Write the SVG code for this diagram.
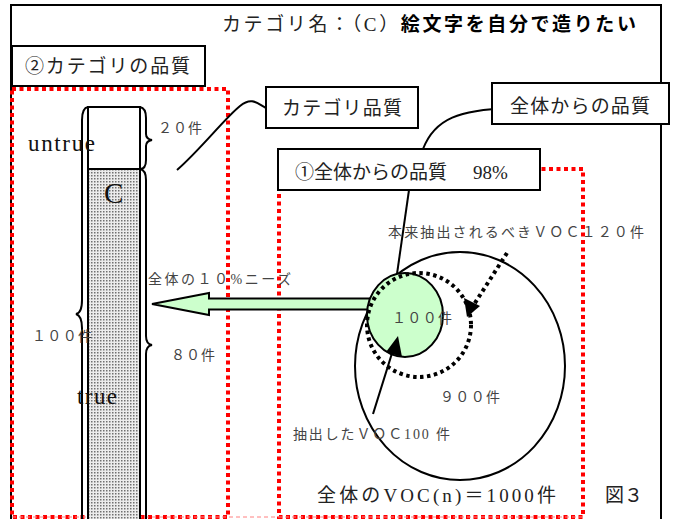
<svg xmlns="http://www.w3.org/2000/svg" width="678" height="519" viewBox="0 0 678 519">
<style>
.jp{font-family:"Liberation Serif","Noto Sans CJK JP",serif;fill:#222}
.sm{font-size:14px;fill:#444}
.md{font-size:19px}
.lat{font-family:"Liberation Serif",serif;fill:#111}
.box{fill:#fff;stroke:#000;stroke-width:2}
.red{fill:none;stroke:#ff0000;stroke-width:4;stroke-dasharray:4 3.5}
.ln{fill:none;stroke:#000;stroke-width:2}
</style>
<defs>
<pattern id="dots" width="3" height="3" patternUnits="userSpaceOnUse">
<rect width="3" height="3" fill="#ececec"/>
<rect x="1" y="1" width="1.5" height="1.5" fill="#707070"/>
</pattern>
</defs>
<rect id="frame" x="11" y="5" width="650" height="530" fill="#fff" stroke="#000" stroke-width="2"/>
<text id="title" class="jp md" x="222" y="31" textLength="414"><tspan>カテゴリ名：（C）</tspan><tspan font-weight="bold" fill="#000">絵文字を自分で造りたい</tspan></text>

<g id="category-region">
<rect class="red" x="12" y="89" width="216" height="428"/>
</g>
<g id="overall-region">
<rect class="red" x="279" y="169" width="304" height="348"/>
</g>
<line x1="12" y1="517" x2="583" y2="517" stroke="#ff8080" stroke-width="1" stroke-dasharray="4 3"/>

<g id="label-category-quality-2">
<rect class="box" x="12" y="46" width="193" height="40"/>
<text class="jp md" x="25" y="73" textLength="165">②カテゴリの品質</text>
</g>

<g id="bar">
<rect x="88" y="169" width="52" height="360" fill="url(#dots)" stroke="#000" stroke-width="2"/>
<rect x="88" y="107" width="52" height="62" fill="#fff" stroke="#000" stroke-width="2"/>
<path class="ln" d="M88,107 Q82,108 82,120 L82,300 Q82,313 76,314 Q82,316 82,328 L82,530"/>
<path class="ln" d="M140,107 Q146,108 146,118 L146,134 Q146,139 152,140 Q146,141 146,146 L146,160 Q146,169 140,169"/>
<path class="ln" d="M140,169 Q146,170 146,180 L146,336 Q146,344 152,345 Q146,346 146,354 L146,530"/>
<text class="lat" x="28" y="151" font-size="23" textLength="67">untrue</text>
<text class="lat" x="104" y="203" font-size="29">C</text>
<text class="lat" x="77" y="404" font-size="23" textLength="40">true</text>
<text class="jp sm" x="32" y="341" textLength="60">１００件</text>
<text class="jp sm" x="158" y="133" textLength="44">２０件</text>
<text class="jp sm" x="171" y="360" textLength="44">８０件</text>
<text class="jp sm" x="148" y="284" textLength="143">全体の１０%ニーズ</text>
</g>

<g id="connectors">
<path class="ln" d="M177,170 C200,150 225,118 240,106 C252,96 258,104 266,108"/>
<path class="ln" d="M510,108 C460,110 435,118 423,149"/>
<path class="ln" d="M409,190 L397,274"/>
<path d="M152,304 L209,293 L209,298.5 L371,298.5 L371,309.5 L209,309.5 L209,315 Z" fill="#ccffcc" stroke="#000" stroke-width="2"/>
</g>

<g id="circles">
<ellipse cx="460" cy="366" rx="105" ry="114" fill="#fff" stroke="#000" stroke-width="2"/>
<ellipse cx="405" cy="315" rx="38" ry="42" fill="#ccffcc" stroke="#000" stroke-width="2"/>
<ellipse cx="419" cy="325" rx="52" ry="52" fill="none" stroke="#000" stroke-width="4" stroke-dasharray="3.5 3.5"/>
<text class="jp sm" x="392" y="323" textLength="60">１００件</text>
<text class="jp sm" x="440" y="402" textLength="60">９００件</text>
</g>

<g id="arrows">
<line x1="507" y1="253" x2="473" y2="306" stroke="#000" stroke-width="4" stroke-dasharray="3.5 3.5"/>
<path d="M467,317 L464,298 L480,306 Z" fill="#000"/>
<line x1="373" y1="414" x2="393" y2="350" stroke="#000" stroke-width="2"/>
<path d="M398,336 L402,357 L386,352 Z" fill="#000"/>
</g>

<g id="label-expected">
<text class="jp sm" x="388" y="237" textLength="256">本来抽出されるべきＶＯＣ１２０件</text>
</g>
<g id="label-extracted">
<text class="jp sm" x="293" y="439" textLength="157">抽出したＶＯＣ100 件</text>
</g>

<g id="label-category-quality">
<rect class="box" x="266" y="87" width="152" height="41"/>
<text class="jp md" x="282" y="115" textLength="120">カテゴリ品質</text>
</g>
<g id="label-overall-quality">
<rect class="box" x="492" y="83" width="177" height="41"/>
<text class="jp md" x="510" y="113" textLength="140">全体からの品質</text>
</g>
<g id="label-overall-quality-1">
<rect class="box" x="278" y="149" width="262" height="41"/>
<text class="jp md" x="295" y="179">①全体からの品質<tspan x="473">98%</tspan></text>
</g>

<text class="jp md" x="317" y="502" textLength="239">全体のVOC(n)＝1000件</text>
<text class="jp md" x="605" y="502" textLength="38">図３</text>
</svg>
